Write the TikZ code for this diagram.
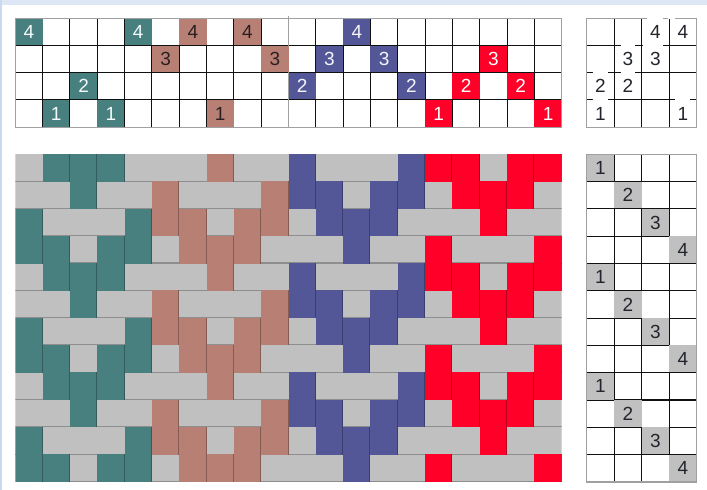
\documentclass[tikz,border=0pt]{standalone}
\usepackage{fontspec}
\setmainfont{Liberation Sans}
\definecolor{w0}{HTML}{487F7F}
\definecolor{w1}{HTML}{B87F74}
\definecolor{w2}{HTML}{535797}
\definecolor{w3}{HTML}{FF0029}
\definecolor{t0}{HTML}{F4FAFA}
\definecolor{t1}{HTML}{2A2020}
\definecolor{t2}{HTML}{F4F4FA}
\definecolor{t3}{HTML}{FFFFFF}
\definecolor{wft}{HTML}{C0C0C0}
\definecolor{wftedge}{HTML}{8E8E8E}
\definecolor{frameline}{HTML}{A0A0A0}
\definecolor{gridline}{HTML}{111111}
\definecolor{inktext}{HTML}{22262C}
\tikzset{
  frame/.style={draw=frameline,line width=1.1pt},
  inner/.style={draw=gridline,line width=1.05pt},
  num/.style={font=\fontsize{19}{20}\selectfont,inner sep=0pt,anchor=center}
}
\newcommand{\gx}{27.32}
\newcommand{\gy}{27.2}
\newcommand{\wy}{27.3}
\newcommand{\tx}{27.5}
\newcommand{\lx}{15.3}
\newcommand{\rx}{561.7}
\newcommand{\ux}{586.7}
\newcommand{\ty}{18.3}
\newcommand{\tb}{127.3}
\newcommand{\wt}{154.3}
\newcommand{\wb}{482}
\begin{document}
\begin{tikzpicture}[x=1pt,y=-1pt]
\useasboundingbox (0,0) rectangle (707,490);
\fill[white] (0,0) rectangle (707,490);
\fill[fill={rgb,255:red,220;green,230;blue,244}] (0,0) rectangle (707,4.6);
\fill[fill={rgb,255:red,201;green,217;blue,240}] (0,0) rectangle (2,490);
% threading and tie-up grids
\foreach \i in {1,...,19} \draw[inner] ({\lx+\i*\gx},\ty) -- ({\lx+\i*\gx},\tb);
\foreach \j in {1,2,3} {
  \draw[inner] (\lx,{\ty+\j*\gy}) -- (\rx,{\ty+\j*\gy});
  \draw[inner] (\ux,{\ty+\j*\gy}) -- ({\ux+4*\tx},{\ty+\j*\gy});
  \draw[inner] ({\ux+\j*\tx},\ty) -- ({\ux+\j*\tx},\tb);
}
\draw[frame] ({\lx+10*\gx},16) -- ({\lx+10*\gx},\tb);
% threading cells
\foreach \s [count=\c] in {4,1,2,1,4,3,4,1,4,3,2,3,4,3,2,1,2,3,2,1} {
  \pgfmathtruncatemacro{\g}{int((\c-1)/5)}
  \pgfmathtruncatemacro{\q}{4-\s}
  \fill[w\g] ({\lx+(\c-1)*\gx},{\ty+\q*\gy}) rectangle ({\lx+\c*\gx},{\ty+(\q+1)*\gy-0.5});
  \node[num,text=t\g] (th\c) at ({\lx+(\c-0.5)*\gx},{\ty+(\q+0.5)*\gy}) {\s};
}
\foreach \c/\q in {2/3,4/3,6/1,14/1,16/3}
  \draw[inner] ({\lx+\c*\gx},{\ty+\q*\gy}) -- ({\lx+\c*\gx},{\ty+(\q+1)*\gy});
\draw[frame] (\lx,\ty) rectangle (\rx,\tb);
% tie-up
\draw[frame] (\ux,\ty) rectangle ({\ux+4*\tx},\tb);
\foreach \a/\b/\j in {592.7/608.3/2,620.7/635/2,592.7/608.3/3,620.7/635/1,642.7/662.7/1,675/690/3,646.7/663.3/0,668/675/0}
  \draw[white,line width=1.6pt] (\a,{\ty+\j*\gy}) -- (\b,{\ty+\j*\gy});
\foreach \c/\s in {1/2,1/1,2/3,2/2,3/4,3/3,4/4,4/1} {
  \pgfmathtruncatemacro{\q}{4-\s}
  \node[num,text=inktext] (tu\c\s) at ({\ux+(\c-0.5)*\tx},{\ty+(\q+0.5)*\gy}) {\s};
}
% weave
\begin{scope}
\clip (\lx,\wt) rectangle (\rx,\wb);
\foreach \s [count=\c] in {4,1,2,1,4,3,4,1,4,3,2,3,4,3,2,1,2,3,2,1} {
  \foreach \r in {1,...,12} {
    \pgfmathtruncatemacro{\t}{mod(\r-1,4)+1}
    \pgfmathtruncatemacro{\n}{mod(\t,4)+1}
    \pgfmathsetmacro{\xa}{\lx+(\c-1)*\gx}
    \pgfmathsetmacro{\xb}{\lx+\c*\gx}
    \pgfmathsetmacro{\ya}{\wt+(\r-1)*\wy}
    \pgfmathsetmacro{\yb}{\wt+\r*\wy}
    \ifnum\s=\t\relax\else\ifnum\s=\n\relax\else
      \fill[wft] (\xa-0.4,\ya) rectangle (\xb,\yb);
      \draw[wftedge,line width=1.1pt] (\xa-0.4,\yb-0.55) -- (\xb,\yb-0.55);
    \fi\fi
  }
}
\foreach \s [count=\c] in {4,1,2,1,4,3,4,1,4,3,2,3,4,3,2,1,2,3,2,1} {
  \pgfmathtruncatemacro{\g}{int((\c-1)/5)}
  \foreach \r in {1,...,12} {
    \pgfmathtruncatemacro{\t}{mod(\r-1,4)+1}
    \pgfmathtruncatemacro{\n}{mod(\t,4)+1}
    \pgfmathtruncatemacro{\u}{(\s==\t)||(\s==\n)}
    \ifnum\u=1
      \pgfmathsetmacro{\xa}{\lx+(\c-1)*\gx}
      \pgfmathsetmacro{\xb}{\lx+\c*\gx}
      \pgfmathsetmacro{\ya}{\wt+(\r-1)*\wy}
      \pgfmathsetmacro{\yb}{\wt+\r*\wy}
      \fill[w\g] (\xa,\ya-0.4) rectangle (\xb,\yb);
      \draw[w\g!72!black,line width=1pt] (\xb-0.5,\ya-0.4) -- (\xb-0.5,\yb);
    \fi
  }
}
\end{scope}
% treadling
\foreach \j in {1,2,3} \draw[inner] ({\ux+\j*\tx},\wt) -- ({\ux+\j*\tx},\wb);
\foreach \r in {1,...,11} \draw[inner] (\ux,{\wt+\r*\wy}) -- ({\ux+4*\tx},{\wt+\r*\wy});
\foreach \r in {1,...,12} {
  \pgfmathtruncatemacro{\t}{mod(\r-1,4)+1}
  \fill[wft] ({\ux+(\t-1)*\tx},{\wt+(\r-1)*\wy}) rectangle ({\ux+\t*\tx},{\wt+\r*\wy-0.5});
  \node[num,text=inktext] (tr\r) at ({\ux+(\t-0.5)*\tx},{\wt+(\r-0.5)*\wy}) {\t};
}
\foreach \r in {3,7,11}
  \draw[inner] ({\ux+3*\tx},{\wt+(\r-1)*\wy}) -- ({\ux+3*\tx},{\wt+\r*\wy});
\draw[frame] (\ux,\wt) rectangle ({\ux+4*\tx},\wb);
\end{tikzpicture}
\end{document}
